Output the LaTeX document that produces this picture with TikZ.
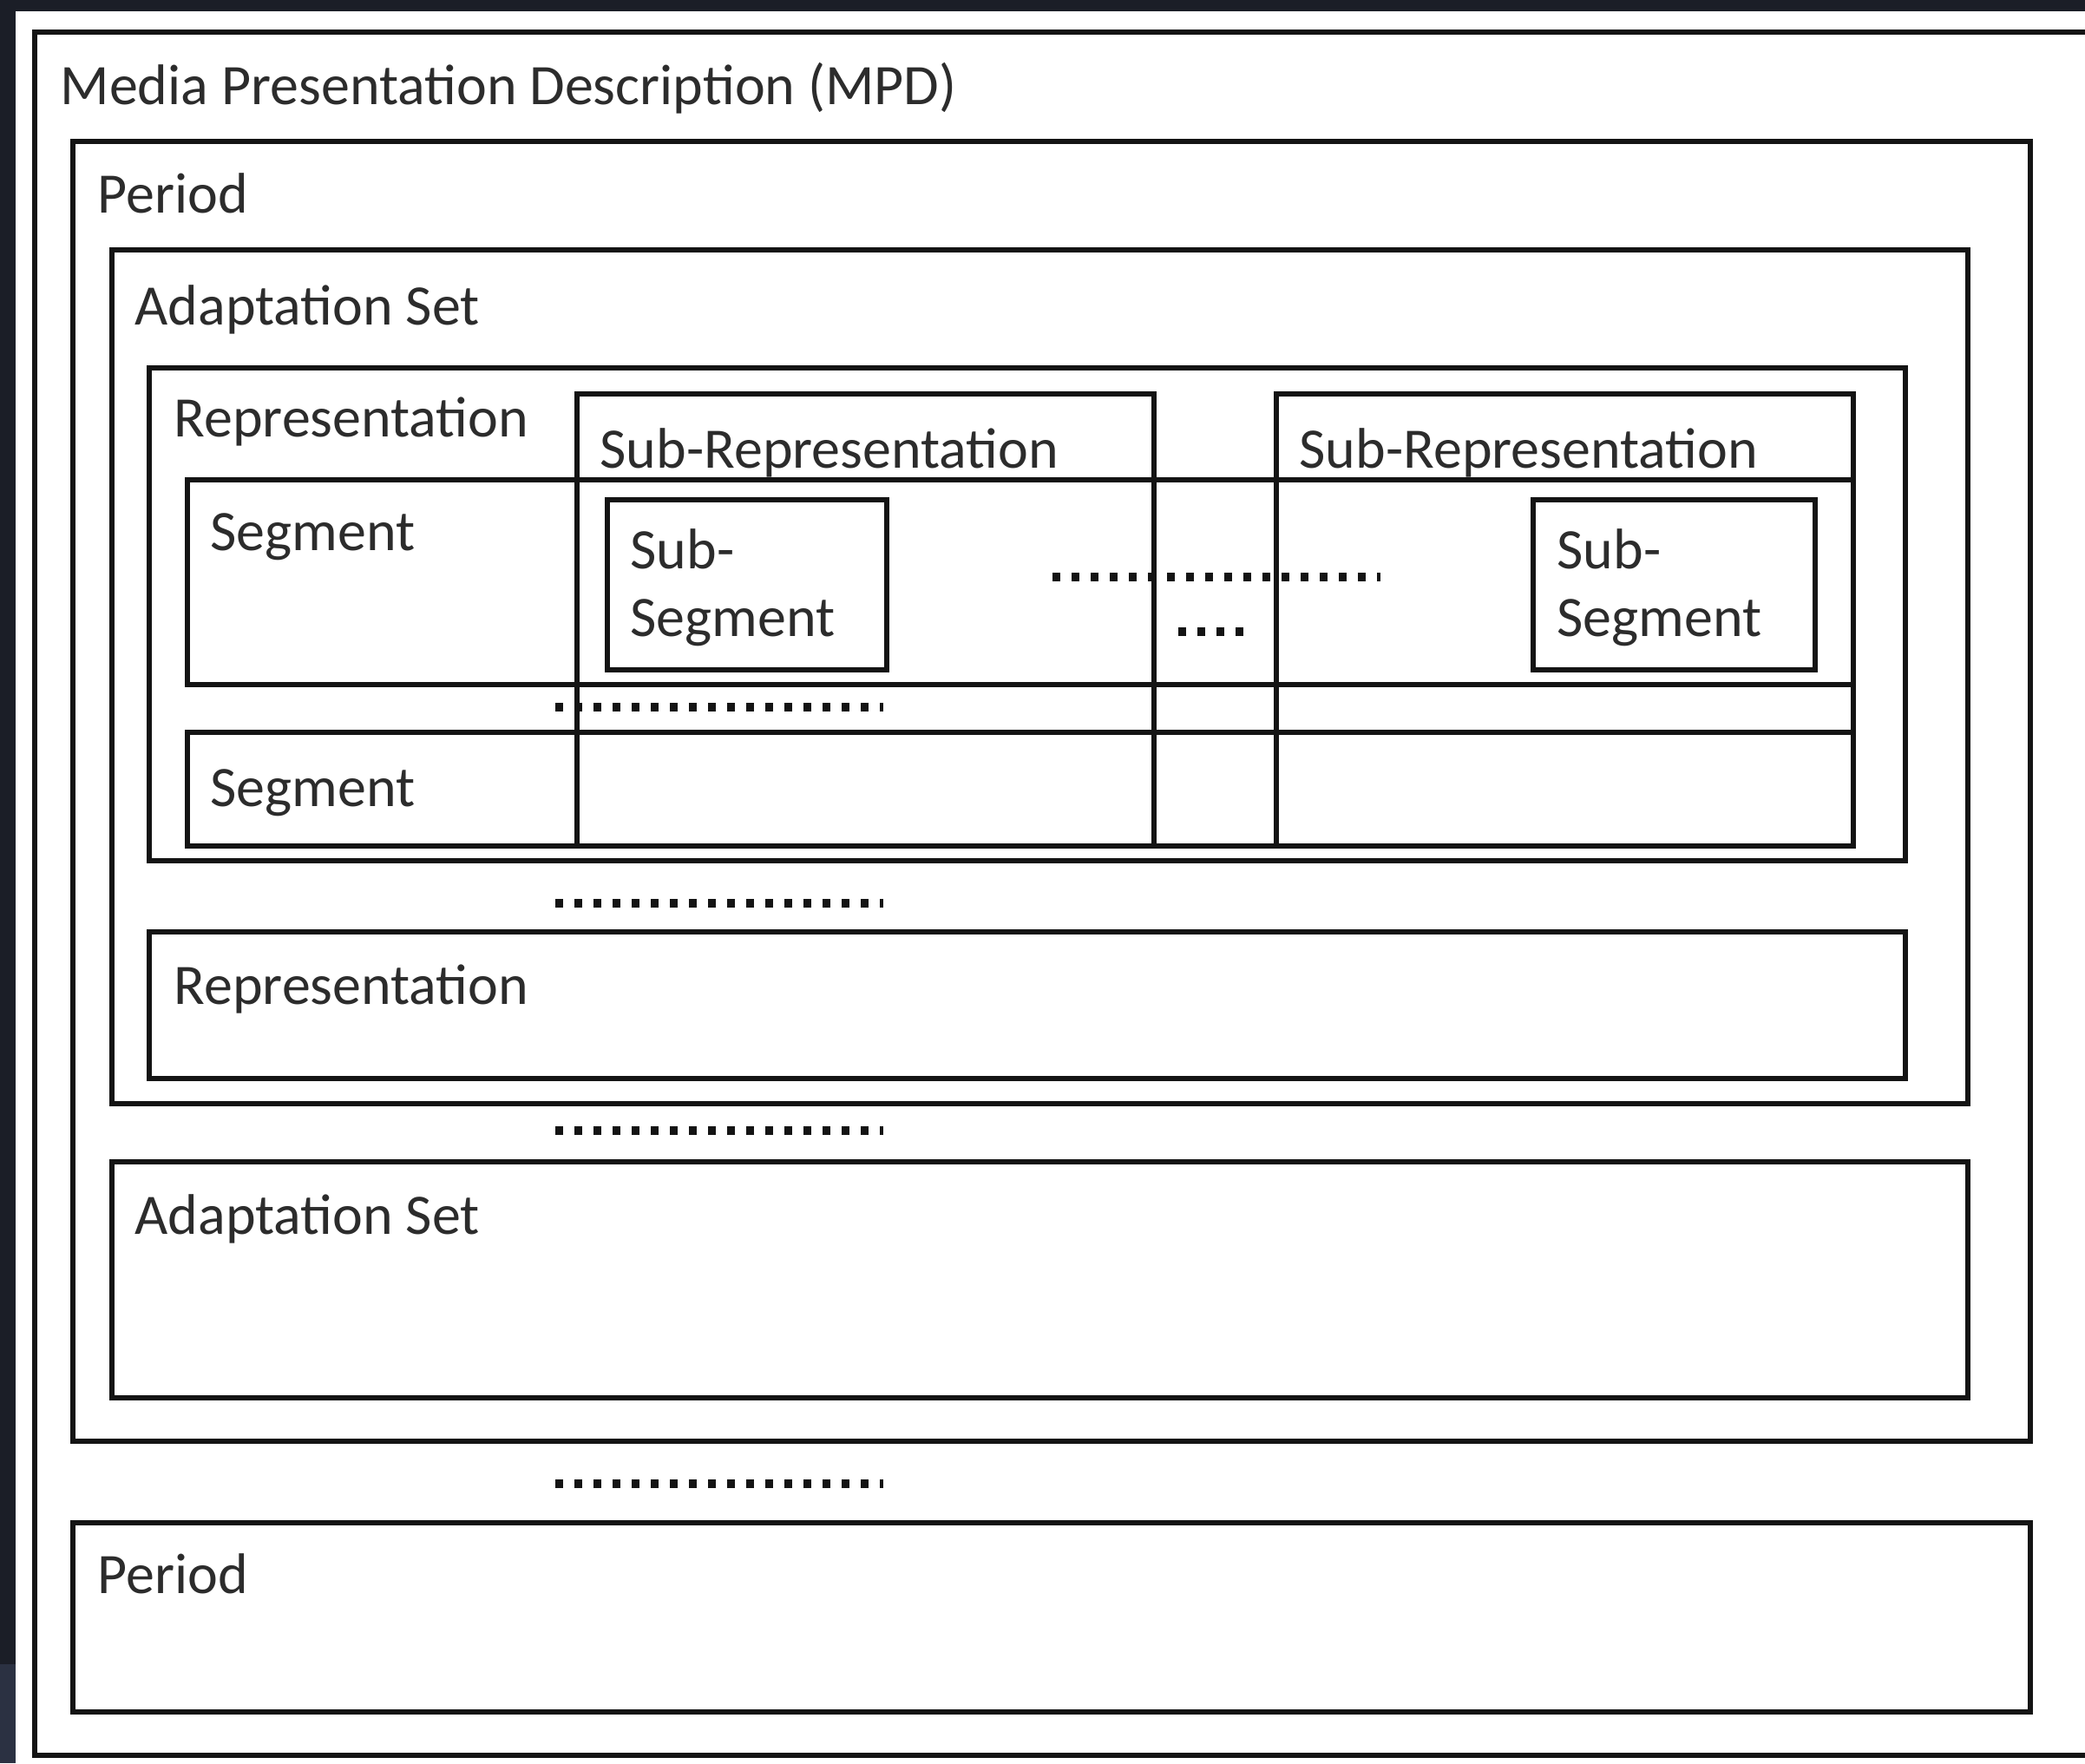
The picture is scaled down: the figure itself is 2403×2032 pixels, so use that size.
\documentclass[tikz,border=0pt]{standalone}
\usepackage{fontspec}
\setmainfont{Carlito}
\definecolor{bgdark}{HTML}{1B1E27}
\definecolor{bglite}{HTML}{2B3142}
\definecolor{ink}{HTML}{141414}
\begin{document}
\begin{tikzpicture}[x=0.3pt,y=-0.3pt,
  frame/.style={draw=ink, line width=1.8pt},
  lbl/.style={anchor=base west, inner sep=0pt, font=\fontsize{19.8}{23.8}\selectfont, text=ink!90},
  dotrow/.style={draw=ink, line width=2.9pt, dash pattern=on 2.6pt off 4.0pt}]
\useasboundingbox (0,0) rectangle (2403,2032);
\fill[white] (0,0) rectangle (2403,2032);
\begin{scope}
\clip (0,0) rectangle (2403,2032);
% background strips
\fill[bgdark] (0,0) rectangle (2403,13);
\fill[bgdark] (0,0) rectangle (18,1918);
\fill[bglite] (0,1918) rectangle (18,2032);
% MPD (right edge off the picture)
\draw[frame] (2440,37) -- (40,37) -- (40,2023) -- (2440,2023);
\end{scope}
\node[lbl] (mpd) at (69,120) {Media Presentation Description (MPD)};

% Period 1
\draw[frame] (84,163) rectangle (2340,1661);
\node[lbl] (per1) at (112,245) {Period};
% Adaptation Set 1
\draw[frame] (129,288) rectangle (2268,1272);
\node[lbl] (as1) at (155,374) {Adaptation Set};
% Representation 1
\draw[frame] (172,424) rectangle (2196,992);
\node[lbl] (rep1) at (200,503) {Representation};
% Sub-Representations
\draw[frame] (665,454) rectangle (1330,975);
\node[lbl] (subrep1) at (691,539) {Sub-Representation};
\draw[frame] (1471,454) rectangle (2136,975);
\node[lbl] (subrep2) at (1497,539) {Sub-Representation};
% Segment rows
\draw[frame] (216,553) rectangle (2136,789);
\node[lbl] (seg1) at (242,634) {Segment};
\draw[frame] (216,844) rectangle (2136,975);
\node[lbl] (seg2) at (242,929) {Segment};
% Sub-Segments
\draw[frame] (700,576) rectangle (1022,772);
\node[lbl] (ssa1) at (726,655) {Sub-};
\node[lbl] (ssa2) at (726,733) {Segment};
\draw[frame] (1767,576) rectangle (2092,772);
\node[lbl] (ssb1) at (1794,655) {Sub-};
\node[lbl] (ssb2) at (1794,733) {Segment};
% Representation 2
\draw[frame] (172,1074) rectangle (2196,1243);
\node[lbl] (rep2) at (200,1157) {Representation};
% Adaptation Set 2
\draw[frame] (129,1339) rectangle (2268,1611);
\node[lbl] (as2) at (155,1422) {Adaptation Set};
% Period 2
\draw[frame] (84,1755) rectangle (2340,1973);
\node[lbl] (per2) at (112,1836) {Period};

% dotted ellipses
\coordinate (d2a) at (1213,665); \coordinate (d2b) at (1591,665);
\coordinate (d3a) at (1358,728); \coordinate (d3b) at (1434,728);
\coordinate (d4a) at (640,815); \coordinate (d4b) at (1018,815);
\coordinate (d5a) at (640,1041); \coordinate (d5b) at (1018,1041);
\coordinate (d6a) at (640,1303); \coordinate (d6b) at (1018,1303);
\coordinate (d7a) at (640,1710); \coordinate (d7b) at (1018,1710);
\draw[dotrow] (d2a) -- (d2b);
\draw[dotrow] (d3a) -- (d3b);
\draw[dotrow] (d4a) -- (d4b);
\draw[dotrow] (d5a) -- (d5b);
\draw[dotrow] (d6a) -- (d6b);
\draw[dotrow] (d7a) -- (d7b);
\end{tikzpicture}
\end{document}
